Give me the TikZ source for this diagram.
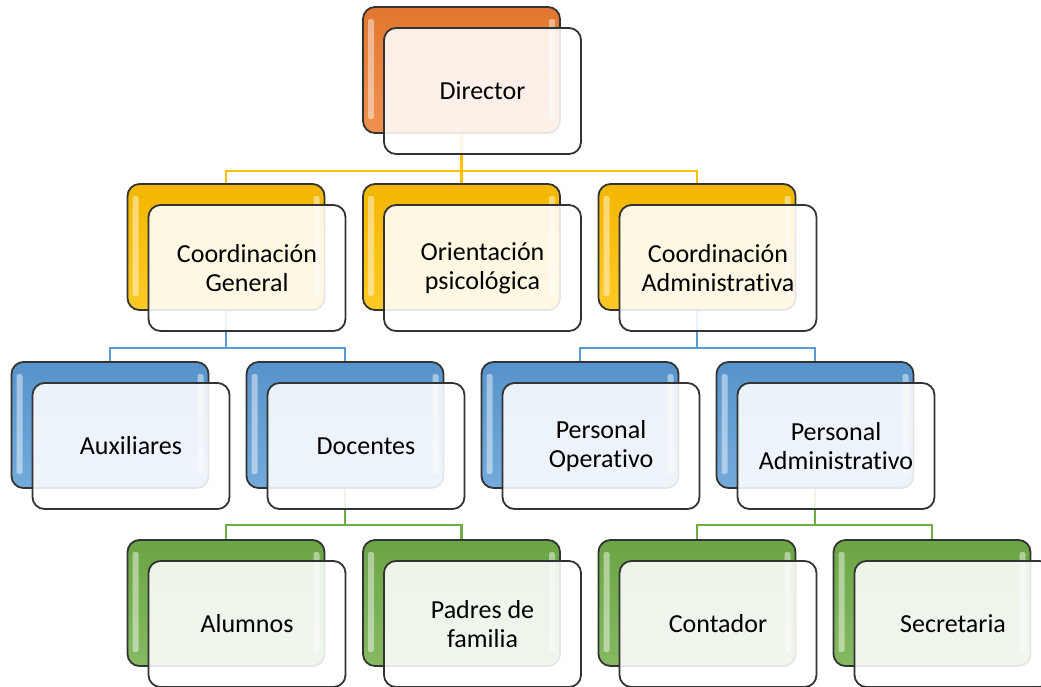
\documentclass[tikz,border=0pt]{standalone}
\usepackage{fontspec}
\setmainfont{Carlito}[Ligatures=NoCommon]
\usetikzlibrary{backgrounds}
\definecolor{naranja}{HTML}{ED7D31}
\definecolor{amarillo}{HTML}{FFC000}
\definecolor{azul}{HTML}{5B9BD5}
\definecolor{verde}{HTML}{70AD47}
\definecolor{borde}{HTML}{333333}
\begin{document}
\begin{tikzpicture}[x=1pt,y=-1pt]
        \tikzstyle{every node} = [rectangle, rounded corners=12pt, minimum width=197pt, minimum height=126pt, inner sep=0pt]
        \tikzstyle{fondo} = [draw=borde, line width=1.8pt, top color=#1!95!black, bottom color=#1!85!white,
            path picture={
              \fill[white, opacity=.45, rounded corners=2pt] ([xshift=5pt,yshift=-12pt]path picture bounding box.north west) rectangle ([xshift=11pt,yshift=14pt]path picture bounding box.south west);
              \fill[white, opacity=.45, rounded corners=2pt] ([xshift=-11pt,yshift=-12pt]path picture bounding box.north east) rectangle ([xshift=-5pt,yshift=14pt]path picture bounding box.south east);}]
        \tikzstyle{frente} = [draw=borde, line width=1.8pt, fill=white, fill opacity=.88, text opacity=1, draw opacity=1,
            align=center, font=\fontsize{26}{29}\selectfont]
        \tikzstyle{linea} = [line width=2.4pt, #1]
        \useasboundingbox (0,0) rectangle (1041,686);
        \clip (0,0) rectangle (1041,686);
        % nivel 1
        \node[fondo=naranja] (dir) at (461.5,70) {};
        \node[frente] (dirF) at (482.5,91) {Director};
        % nivel 2
        \node[fondo=amarillo] (cg) at (226,247) {};
        \node[frente] (cgF) at (247,268) {Coordinación\\General};
        \node[fondo=amarillo] (op) at (461.5,247) {};
        \node[frente] (opF) at (482.5,268) {Orientación\\psicológica};
        \node[fondo=amarillo] (ca) at (697,247) {};
        \node[frente] (caF) at (718,268) {Coordinación\\Administrativa};
        % nivel 3
        \node[fondo=azul] (aux) at (110,425) {};
        \node[frente] (auxF) at (131,446) {Auxiliares};
        \node[fondo=azul] (doc) at (345,425) {};
        \node[frente] (docF) at (366,446) {Docentes};
        \node[fondo=azul] (po) at (580,425) {};
        \node[frente] (poF) at (601,446) {Personal\\Operativo};
        \node[fondo=azul] (pa) at (815,425) {};
        \node[frente] (paF) at (836,446) {Personal\\Administrativo};
        % nivel 4
        \node[fondo=verde] (alu) at (226,603) {};
        \node[frente] (aluF) at (247,624) {Alumnos};
        \node[fondo=verde] (pad) at (461.5,603) {};
        \node[frente] (padF) at (482.5,624) {Padres de\\familia};
        \node[fondo=verde] (con) at (697,603) {};
        \node[frente] (conF) at (718,624) {Contador};
        \node[fondo=verde] (sec) at (932,603) {};
        \node[frente] (secF) at (953,624) {Secretaria};
        % conectores
        \begin{scope}[on background layer]
        \draw[linea=amarillo] (dir.south) -- ++(0,37) -| (cg.north);
        \draw[linea=amarillo] (dir.south) -- (op.north);
        \draw[linea=amarillo] (dir.south) -- ++(0,37) -| (ca.north);
        \draw[linea=azul] (cg.south) -- ++(0,37) -| (aux.north);
        \draw[linea=azul] (cg.south) -- ++(0,37) -| (doc.north);
        \draw[linea=azul] (ca.south) -- ++(0,37) -| (po.north);
        \draw[linea=azul] (ca.south) -- ++(0,37) -| (pa.north);
        \draw[linea=verde] (doc.south) -- ++(0,36) -| (alu.north);
        \draw[linea=verde] (doc.south) -- ++(0,36) -| (pad.north);
        \draw[linea=verde] (pa.south) -- ++(0,36) -| (con.north);
        \draw[linea=verde] (pa.south) -- ++(0,36) -| (sec.north);
        \end{scope}
\end{tikzpicture}
\end{document}
